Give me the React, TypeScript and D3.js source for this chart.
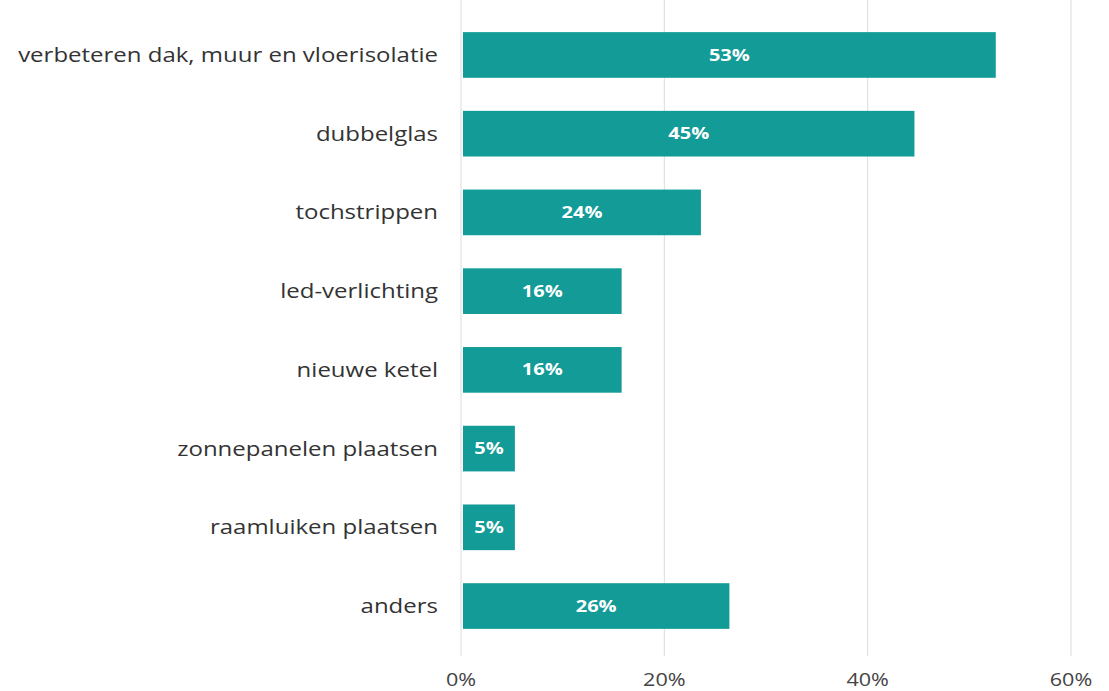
import React from "react";
import * as d3 from "d3";

const categories = [
  "verbeteren dak, muur en vloerisolatie",
  "dubbelglas",
  "tochstrippen",
  "led-verlichting",
  "nieuwe ketel",
  "zonnepanelen plaatsen",
  "raamluiken plaatsen",
  "anders",
];
const values = [52.6, 44.6, 23.6, 15.8, 15.8, 5.3, 5.3, 26.4];
const ticks = [0, 20, 40, 60];

const W = 1109;
const H = 691;
const FONT = "'Open Sans', 'Noto Sans', sans-serif";
const BAR = "#129b97";
const SX = 1.2;

export default function App() {
  const x = d3.scaleLinear().domain([0, 60]).range([461, 1071]);
  const y = d3
    .scaleBand<string>()
    .domain(categories)
    .range([15.6, 645.4])
    .paddingInner(0.42)
    .paddingOuter(0.21);

  return (
    <svg
      width={W}
      height={H}
      style={{ position: "absolute", left: 0, top: 0, background: "#fff" }}
      fontFamily={FONT}
    >
      {ticks.map((t) => (
        <g key={t}>
          <line x1={x(t)} x2={x(t)} y1={0} y2={656} stroke="#dcdcdc" strokeWidth={1} />
          <text
            transform={`translate(${x(t)},686) scale(${SX},1)`}
            textAnchor="middle"
            fontSize={18}
            fill="#444"
          >
            {t}%
          </text>
        </g>
      ))}
      {categories.map((c, i) => {
        const yy = y(c)!;
        const bw = y.bandwidth();
        const cy = yy + bw / 2;
        return (
          <g key={c}>
            <rect x={x(0) + 2} y={yy} width={x(values[i]) - x(0) - 2} height={bw} fill={BAR} />
            <text
              transform={`translate(${(x(0) + 2 + x(values[i])) / 2},${cy}) scale(1.25,1)`}
              dy="0.35em"
              textAnchor="middle"
              fontSize={16}
              fontWeight={700}
              fill="#fff"
            >
              {Math.round(values[i])}%
            </text>
            <text
              transform={`translate(438,${cy}) scale(${SX},1)`}
              dy="0.35em"
              textAnchor="end"
              fontSize={20}
              fill="#333"
            >
              {c}
            </text>
          </g>
        );
      })}
    </svg>
  );
}
